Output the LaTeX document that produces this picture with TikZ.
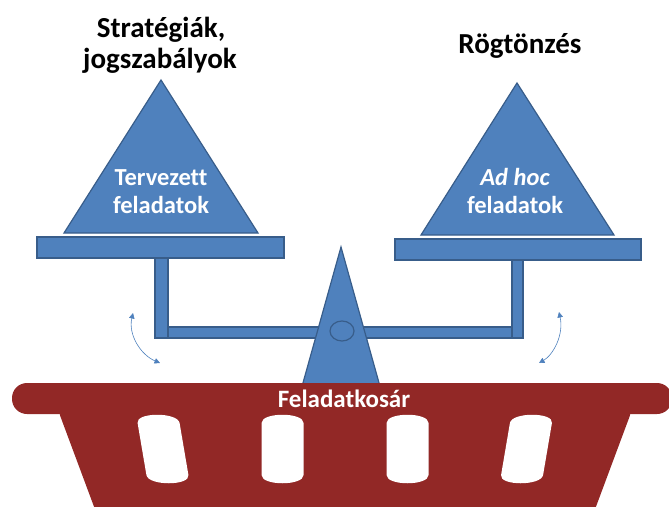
\documentclass[tikz,border=0pt]{standalone}
\usepackage{fontspec}
\setmainfont{Carlito}[Ligatures=NoCommon]
\usetikzlibrary{arrows.meta}
\definecolor{scaleblue}{RGB}{79,129,189}
\definecolor{scaleline}{RGB}{56,93,138}
\definecolor{basketred}{RGB}{146,40,38}
\tikzset{scalepart/.style={fill=scaleblue, draw=scaleline, line width=1.2pt}, titletext/.style={font=\bfseries\fontsize{29}{34}\selectfont, inner sep=0pt, anchor=base}, innertext/.style={titletext, text=white, font=\bfseries\fontsize{24.5}{28}\selectfont}, swing/.style={scaleblue, line width=0.6pt, {Triangle[length=5.5pt,width=5.5pt]}-{Triangle[length=5.5pt,width=5.5pt]}}}

\begin{document}
\begin{tikzpicture}[x=1pt,y=-1pt]
    \useasboundingbox (0,0) rectangle (669,506);
    \clip (0,0) rectangle (669,506);
    % pans
    \draw[scalepart] (37,237) rectangle (284,258);
    \draw[scalepart] (64,233) -- (161,80) -- (258,233) -- cycle;
    \draw[scalepart] (395,239) rectangle (641,260);
    \draw[scalepart] (421,235) -- (517,83) -- (614,235) -- cycle;
    % beam
    \draw[scalepart] (155,258) rectangle (168,338);
    \draw[scalepart] (168,327) rectangle (335,338);
    \draw[scalepart] (348,327) rectangle (512,338);
    \draw[scalepart] (512,260) rectangle (523,338);
    \draw[scalepart] (301,390) -- (341,247) -- (381,390) -- cycle;
    \draw[scaleline, line width=1.2pt] (342,331) ellipse [x radius=12, y radius=10];
    % basket
    \fill[basketred, rounded corners=15pt] (12,383) rectangle (672,414);
    \fill[basketred, rounded corners=6pt] (58,410) -- (632,410) -- (594,512) -- (96,512) -- cycle;
    \foreach \cx/\sl in {163/-0.17, 282.5/0, 407.5/0, 526.5/0.17}
        \fill[white, shift={(\cx,449)}, xslant=\sl] (-21,-26) .. controls (-21,-37) and (21,-37) .. (21,-26) -- (21,26) .. controls (21,37) and (-21,37) .. (-21,26) -- cycle;
    % texts
    \node[titletext] (strat) at (161,37) {Stratégiák,};
    \node[titletext] (jog) at (160,68) {jogszabályok};
    \node[titletext] (rogt) at (520,53) {Rögtönzés};
    \node[innertext] (terv) at (161,185) {Tervezett};
    \node[innertext] (felL) at (161,213) {feladatok};
    \node[innertext] (adhoc) at (515,185) {\itshape Ad hoc};
    \node[innertext] (felR) at (515,213) {feladatok};
    \node[innertext, font=\bfseries\fontsize{25}{28}\selectfont] (kosar) at (344,407) {Feladatkosár};
    % swing arrows
    \coordinate (swL1) at (133,313);
    \coordinate (swL2) at (160,363);
    \coordinate (swR1) at (559,312);
    \coordinate (swR2) at (539,363);
    \draw[swing] (swL1) .. controls (128,335) and (141,355) .. (swL2);
    \draw[swing] (swR1) .. controls (564,335) and (553,355) .. (swR2);
\end{tikzpicture}
\end{document}
